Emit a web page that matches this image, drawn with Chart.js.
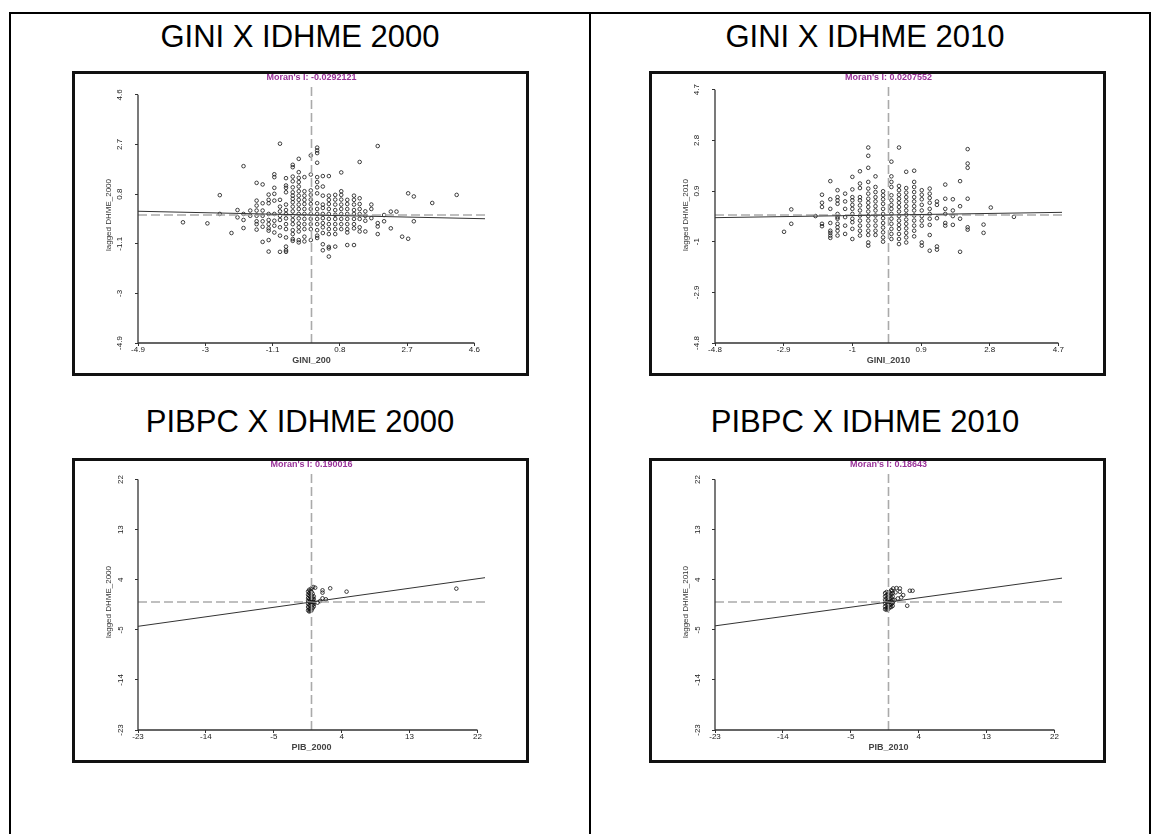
<!DOCTYPE html>
<html>
<head>
<meta charset="utf-8">
<script src="https://cdn.jsdelivr.net/npm/chart.js@4.4.1/dist/chart.umd.min.js"></script>
<style>
  body { margin: 0; width: 1151px; height: 834px; position: relative; background: #fff; overflow: hidden;
         font-family: Arial, "Liberation Sans", sans-serif; }
  .rule { position: absolute; background: #000; }
  .head { position: absolute; text-align: center; font-size: 31px; line-height: 31px; color: #000; white-space: nowrap; }
  .box { position: absolute; width: 457px; height: 305px; }
  .box canvas { position: absolute; left: 0; top: 0; }
  .frame { position: absolute; left: 0; top: 0; width: 457px; height: 305px; box-sizing: border-box;
           border: 3px solid #111; pointer-events: none; }
</style>
</head>
<body>

<!-- table lines -->
<div class="rule" style="left:9px;top:12px;width:1142px;height:2px"></div>
<div class="rule" style="left:9px;top:12px;width:2px;height:822px"></div>
<div class="rule" style="left:589px;top:12px;width:2px;height:822px"></div>
<div class="rule" style="left:1149px;top:12px;width:2px;height:822px"></div>

<div class="head" style="left:10px;width:580px;top:21px">GINI X IDHME 2000</div>
<div class="head" style="left:590px;width:550px;top:21px">GINI X IDHME 2010</div>
<div class="head" style="left:10px;width:580px;top:406px">PIBPC X IDHME 2000</div>
<div class="head" style="left:590px;width:550px;top:406px">PIBPC X IDHME 2010</div>

<div class="box" style="left:72px;top:71px"><canvas id="c1" width="457" height="305"></canvas><div class="frame"></div></div>
<div class="box" style="left:649px;top:71px"><canvas id="c2" width="457" height="305"></canvas><div class="frame"></div></div>
<div class="box" style="left:72px;top:458px"><canvas id="c3" width="457" height="305"></canvas><div class="frame"></div></div>
<div class="box" style="left:649px;top:458px"><canvas id="c4" width="457" height="305"></canvas><div class="frame"></div></div>

<script>
// ---------------------------------------------------------
// DATA
// ---------------------------------------------------------
const moranValues = [-0.0292121, 0.0207552, 0.190016, 0.18643];

const giniTicks2000 = [-4.9, -3, -1.1, 0.8, 2.7, 4.6];
const giniRange2000 = [-4.9, 4.9];
const giniTicks2010 = [-4.8, -2.9, -1, 0.9, 2.8, 4.7];
const giniRange2010 = [-4.8, 4.8];
const pibTicks = [-23, -14, -5, 4, 13, 22];
const pibRange = [-23, 23];

// GINI 2000: x columns and lagged values in each column
const gini2000Cols = [-3.63, -2.94, -2.59, -2.26, -2.09, -1.92, -1.73, -1.55, -1.38, -1.21, -1.05, -0.89,
  -0.72, -0.53, -0.36, -0.20, -0.02, 0.16, 0.32, 0.49, 0.67, 0.84, 1.01, 1.20, 1.36, 1.52, 1.69, 1.87,
  2.05, 2.24, 2.40, 2.56, 2.73, 2.89, 3.41, 4.10];
const gini2000Lag = [
  [-0.28], [-0.32], [0.76, 0.04], [-0.69], [0.19, -0.09], [1.87, 0.04, -0.19, -0.50], [0.17, -0.03],
  [1.23, 0.55, 0.36, 0.17, -0.03, -0.24, -0.35, -0.56],
  [1.17, 0.45, 0.17, -0.03, -0.24, -0.45, -1.03],
  [0.78, 0.58, 0.45, 0.04, -0.19, -0.35, -0.51, -0.60, -0.96, -1.40],
  [1.56, 1.45, 1.04, 0.81, 0.55, 0.04, -0.22, -0.41, -0.67],
  [2.73, 0.58, 0.32, 0.14, -0.03, -0.19, -0.47, -0.79, -1.41],
  [1.41, 1.13, 1.04, 0.87, 0.40, 0.19, 0.04, -0.13, -0.35, -0.54, -0.86, -1.21, -1.35, -1.41],
  [1.92, 1.83, 1.47, 1.29, 1.06, 0.87, 0.74, 0.62, 0.49, 0.32, 0.14, -0.03, -0.19, -0.35, -0.58, -0.73, -0.92, -0.99],
  [2.15, 1.64, 1.42, 1.26, 1.09, 0.91, 0.74, 0.58, 0.40, 0.23, 0.04, -0.13, -0.32, -0.47, -0.63, -0.96, -1.05],
  [1.45, 0.91, 0.74, 0.58, 0.42, 0.23, 0.04, -0.15, -0.35, -0.54, -0.83, -1.01],
  [2.28, 1.55, 0.94, 0.77, 0.59, 0.42, 0.23, 0.04, -0.15, -0.35, -0.54, -0.96],
  [2.58, 2.47, 2.37, 2.00, 1.45, 1.26, 1.06, 0.83, 0.45, 0.23, 0.04, -0.15, -0.35, -0.58, -0.79, -0.88],
  [1.49, 1.09, 0.74, 0.40, 0.27, 0.04, -0.12, -0.31, -0.47, -0.69, -1.12, -1.35],
  [1.49, 0.74, 0.58, 0.42, 0.23, 0.04, -0.15, -0.35, -0.54, -0.73, -1.22, -1.28, -1.59],
  [0.77, 0.59, 0.40, 0.19, 0.01, -0.15, -0.35, -0.54, -0.73, -1.21],
  [1.63, 0.91, 0.77, 0.59, 0.40, 0.23, 0.04, -0.15, -0.35, -0.54],
  [0.58, 0.42, 0.23, 0.04, -0.15, -0.35, -0.54, -0.67, -1.15],
  [0.74, 0.58, 0.40, 0.19, 0.04, -0.15, -0.35, -0.51, -1.15],
  [2.03, 0.64, 0.42, 0.23, 0.04, -0.15, -0.47, -0.63],
  [0.14, -0.03, -0.22, -0.63], [0.40, 0.23, -0.12], [2.64, -0.31, -0.44, -0.73],
  [0.00, -0.24], [0.13, -0.51], [0.13], [-0.83], [0.83, -0.91], [0.71, -0.24], [0.46], [0.77]
];

// GINI 2010
const gini2010Cols = [-2.89, -2.69, -2.02, -1.84, -1.61, -1.41, -1.20, -1.00, -0.79, -0.56, -0.36, -0.15,
  0.08, 0.29, 0.49, 0.71, 0.92, 1.14, 1.34, 1.57, 1.78, 1.98, 2.19, 2.63, 2.83, 3.47];
const gini2010Lag = [
  [-0.63], [0.21, -0.33], [-0.04], [0.76, 0.46, 0.30, -0.33, -0.42],
  [1.27, 0.59, 0.23, -0.30, -0.59, -0.67, -0.77, -0.86],
  [0.93, 0.67, 0.55, 0.42, 0.04, -0.08, -0.14, -0.33, -0.46, -0.59, -0.77],
  [0.80, 0.51, 0.23, -0.08, -0.40, -0.71],
  [1.43, 0.96, 0.67, 0.55, 0.38, 0.23, 0.04, -0.14, -0.27, -0.52, -0.90],
  [1.64, 1.18, 1.01, 0.67, 0.55, 0.36, 0.17, -0.02, -0.21, -0.40, -0.59, -0.77],
  [2.53, 2.22, 1.77, 1.24, 0.99, 0.80, 0.61, 0.46, 0.30, 0.13, -0.04, -0.21, -0.40, -0.59, -0.75, -1.03, -1.15],
  [1.45, 1.05, 0.86, 0.67, 0.51, 0.33, 0.17, -0.02, -0.21, -0.40, -0.59, -0.75],
  [0.89, 0.74, 0.59, 0.42, 0.23, 0.04, -0.12, -0.30, -0.47, -0.65, -0.84, -1.00],
  [2.00, 1.45, 1.24, 1.05, 0.74, 0.55, 0.38, 0.23, 0.04, -0.14, -0.33, -0.52, -0.71, -0.90],
  [2.53, 1.09, 0.93, 0.76, 0.61, 0.46, 0.30, 0.13, -0.04, -0.21, -0.37, -0.52, -0.71, -0.90, -1.09],
  [1.62, 1.01, 0.84, 0.67, 0.51, 0.33, 0.17, 0.01, -0.17, -0.33, -0.50, -0.67, -0.84, -1.03],
  [1.66, 1.24, 1.05, 0.86, 0.67, 0.51, 0.33, 0.17, -0.02, -0.21, -0.40, -0.59, -0.80],
  [0.93, 0.76, 0.59, 0.38, 0.17, -0.04, -0.21, -0.40, -1.03, -1.15],
  [0.99, 0.80, 0.64, 0.46, 0.23, 0.04, -0.14, -0.37, -0.75, -1.34],
  [0.51, 0.38, -0.12, -1.18, -1.30],
  [1.14, 0.61, 0.23, 0.04, -0.30, -0.40],
  [0.59, 0.17, -0.04, -0.37],
  [1.27, 0.33, -0.14, -1.38],
  [2.47, 1.93, 1.77, 0.61, -0.46, -0.55],
  [-0.36, -0.67], [0.28], [-0.07]
];

// PIB 2000
const pib2000Cols = [-0.45, -0.30, -0.15, 0.00, 0.15, 0.22, 0.30, 0.49, 0.80, 1.15, 1.46, 1.91, 2.48, 4.65, 19.2];
const pib2000Lag = [
  [1.9, 1.3, 0.7, 0.2, -0.3, -0.9, -1.5],
  [2.2, 1.6, 1.1, 0.5, 0.0, -0.6, -1.2, -1.7],
  [2.0, 1.4, 0.9, 0.3, -0.2, -0.7, -1.3, -1.6],
  [2.46, 1.8, 1.2, 0.6, 0.1, -0.4, -1.0, -1.5],
  [1.5, 0.8, 0.4, -0.1, -0.5, -1.1],
  [2.69],
  [1.0, 0.5, 0.0, -0.4, -0.8],
  [2.57], [-0.12], [0.18], [2.1, 1.68, 0.66], [0.48], [2.46], [1.86], [2.4]
];

// PIB 2010
const pib2010Cols = [-0.45, -0.25, -0.05, 0.15, 0.35, 0.49, 0.55, 0.62, 0.80, 0.93, 1.06, 1.24, 1.51,
  1.68, 1.95, 2.48, 2.83, 3.19];
const pib2010Lag = [
  [1.6, 1.0, 0.4, -0.2, -0.8, -1.3],
  [1.8, 1.2, 0.6, 0.1, -0.5, -1.1, -1.4],
  [1.5, 0.9, 0.3, -0.3, -0.9, -1.3],
  [1.7, 1.1, 0.5, 0.0, -0.6, -1.0],
  [2.1, 1.4, 0.8, 0.2, -0.4, -0.9],
  [2.02, -0.08],
  [1.6, 1.0, 0.4, -0.2, -0.7],
  [2.44], [0.34], [1.72], [2.5], [0.64], [2.44, 1.84], [0.82], [1.24], [-0.68], [2.02], [2.02]
];

// ---------------------------------------------------------
// HELPERS
// ---------------------------------------------------------
function toPoints(cols, lags) {
  const pts = [];
  cols.forEach((x, i) => lags[i].forEach(y => pts.push({ x, y })));
  return pts;
}

// axis line only between first and last tick (GeoDa style)
const axisLinePlugin = {
  id: 'axisLine',
  afterDraw(chart) {
    const { ctx, scales: { x, y } } = chart;
    const xt = x.ticks, yt = y.ticks;
    ctx.save();
    ctx.strokeStyle = '#333';
    ctx.lineWidth = 1.3;
    ctx.beginPath();
    ctx.moveTo(x.getPixelForValue(xt[0].value), x.top);
    ctx.lineTo(x.getPixelForValue(xt[xt.length - 1].value), x.top);
    ctx.moveTo(y.right, y.getPixelForValue(yt[0].value));
    ctx.lineTo(y.right, y.getPixelForValue(yt[yt.length - 1].value));
    ctx.stroke();
    ctx.restore();
  }
};

Chart.defaults.font.family = 'Arial, "Liberation Sans", sans-serif';

function moranChart(id, cols, lags, moran, ticks, range, xTitle, yTitle) {
  const [lo, hi] = range;
  const dashed = { showLine: true, pointRadius: 0, borderColor: '#aaaaaa', borderWidth: 1.6, borderDash: [9, 4] };

  new Chart(document.getElementById(id), {
    type: 'scatter',
    data: {
      datasets: [
        { data: [{ x: lo, y: moran * lo }, { x: hi, y: moran * hi }], showLine: true, pointRadius: 0,
          borderColor: '#333', borderWidth: 1 },
        { ...dashed, data: [{ x: 0, y: lo }, { x: 0, y: hi }] },
        { ...dashed, data: [{ x: lo, y: 0 }, { x: hi, y: 0 }] },
        { data: toPoints(cols, lags), pointRadius: 1.8, borderWidth: 0.8, borderColor: '#111',
          backgroundColor: 'rgba(0,0,0,0)' }
      ]
    },
    options: {
      responsive: false,
      animation: false,
      layout: { padding: { left: 0, right: 44, top: 0, bottom: 0 } },
      plugins: {
        legend: { display: false },
        tooltip: { enabled: false },
        title: {
          display: true,
          text: "Moran's I: " + moran,
          color: '#993399',
          fullSize: false,
          font: { size: 9, weight: 'bold', lineHeight: 1 },
          padding: { top: 2.5, bottom: 4.5 }
        }
      },
      scales: {
        x: {
          type: 'linear', min: lo, max: hi,
          afterBuildTicks: s => { s.ticks = ticks.map(v => ({ value: v })); },
          afterFit: s => { s.height = 33; },
          border: { display: false },
          grid: { drawOnChartArea: false, drawTicks: true, tickLength: 3, color: '#333' },
          ticks: { autoSkip: false, maxRotation: 0, padding: -1, color: '#222',
                   font: { size: 8 }, callback: v => String(v) },
          title: { display: true, text: xTitle, color: '#444', font: { size: 9, weight: 'bold' },
                   padding: { top: 0, bottom: 10 } }
        },
        y: {
          type: 'linear', min: lo, max: hi,
          afterBuildTicks: s => { s.ticks = ticks.map(v => ({ value: v })); },
          afterFit: s => { s.width = 66; },
          border: { display: false },
          grid: { drawOnChartArea: false, drawTicks: true, tickLength: 3, color: '#333' },
          ticks: { autoSkip: false, minRotation: 90, maxRotation: 90, crossAlign: 'center', padding: 8,
                   color: '#222', font: { size: 8 }, callback: v => String(v) },
          title: { display: true, text: yTitle, color: '#333', font: { size: 8 },
                   padding: { top: 32, bottom: 0 } }
        }
      }
    },
    plugins: [axisLinePlugin]
  });
}

// ---------------------------------------------------------
// INIT
// ---------------------------------------------------------
moranChart('c1', gini2000Cols, gini2000Lag, moranValues[0], giniTicks2000, giniRange2000, 'GINI_200', 'lagged DHME_2000');
moranChart('c2', gini2010Cols, gini2010Lag, moranValues[1], giniTicks2010, giniRange2010, 'GINI_2010', 'lagged DHME_2010');
moranChart('c3', pib2000Cols, pib2000Lag, moranValues[2], pibTicks, pibRange, 'PIB_2000', 'lagged DHME_2000');
moranChart('c4', pib2010Cols, pib2010Lag, moranValues[3], pibTicks, pibRange, 'PIB_2010', 'lagged DHME_2010');
</script>
</body>
</html>
